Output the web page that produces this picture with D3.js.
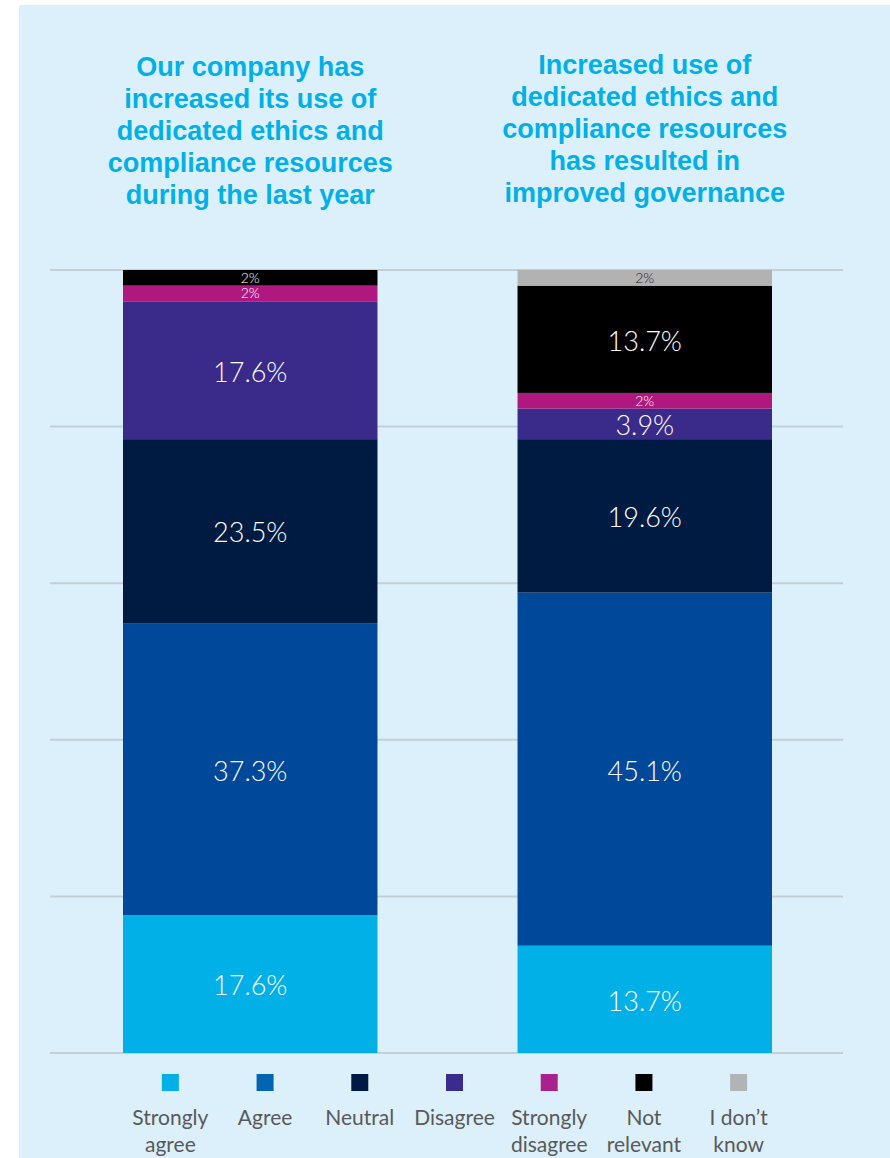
<!DOCTYPE html>
<html>
<head>
<meta charset="utf-8">
<script src="https://cdn.jsdelivr.net/npm/d3@7"></script>
<style>
  html, body { margin: 0; padding: 0; background: #ffffff; }
  svg { display: block; }
</style>
</head>
<body>
<svg id="chart" width="890" height="1158"></svg>
<script>
// ---- Data ----
const categories = ["Strongly agree", "Agree", "Neutral", "Disagree", "Strongly disagree", "Not relevant", "I don\u2019t know"];
const legendLines = [["Strongly", "agree"], ["Agree"], ["Neutral"], ["Disagree"], ["Strongly", "disagree"], ["Not", "relevant"], ["I don\u2019t", "know"]];
const colors = ["#00b0e6", "#00489a", "#001b42", "#3a2a8a", "#b0187f", "#000000", "#b2b2b2"];
const legendColors = ["#00b0e6", "#0066b3", "#001a43", "#3a2c8e", "#a8218c", "#000000", "#b1b3b5"];
const questions = ["q1", "q2"];
const titles = [
  ["Our company has", "increased its use of", "dedicated ethics and", "compliance resources", "during the last year"],
  ["Increased use of", "dedicated ethics and", "compliance resources", "has resulted in", "improved governance"]
];
const valuesQ1 = [17.6, 37.3, 23.5, 17.6, 2, 2, 0];
const valuesQ2 = [13.7, 45.1, 19.6, 3.9, 2, 13.7, 2];
const labelsQ1 = ["17.6%", "37.3%", "23.5%", "17.6%", "2%", "2%", ""];
const labelsQ2 = ["13.7%", "45.1%", "19.6%", "3.9%", "2%", "13.7%", "2%"];
const yTicks = [0, 20, 40, 60, 80, 100];

const svg = d3.select("#chart");

// background panel
svg.append("rect").attr("x", 19).attr("y", 5).attr("width", 871).attr("height", 1153).attr("fill", "#dbf0fb");

const x = d3.scaleBand().domain(questions).range([123, 772]).paddingInner(0.355);
const y = d3.scaleLinear().domain([0, 100]).range([1053, 270]);

// gridlines
svg.append("g").selectAll("line").data(yTicks).join("line")
  .attr("x1", 50).attr("x2", 843)
  .attr("y1", d => y(d)).attr("y2", d => y(d))
  .attr("stroke", "#c3cfd7").attr("stroke-width", 2);

// stacked data
const allValues = [valuesQ1, valuesQ2];
const allLabels = [labelsQ1, labelsQ2];
questions.forEach((q, qi) => {
  let cum = 0;
  const segs = allValues[qi].map((v, i) => {
    const s = { q, i, v, y0: cum, y1: cum + v, label: allLabels[qi][i] };
    cum += v;
    return s;
  }).filter(s => s.v > 0);
  const g = svg.append("g");
  g.selectAll("rect").data(segs).join("rect")
    .attr("x", x(q)).attr("width", x.bandwidth())
    .attr("y", d => y(d.y1)).attr("height", d => y(d.y0) - y(d.y1))
    .attr("fill", d => colors[d.i]);
  g.selectAll("text").data(segs).join("text")
    .attr("x", x(q) + x.bandwidth() / 2)
    .attr("y", d => (y(d.y0) + y(d.y1)) / 2)
    .attr("dy", d => d.v <= 2 ? "0.34em" : "0.42em")
    .attr("text-anchor", "middle")
    .attr("font-family", "Lato, 'Liberation Sans', sans-serif")
    .attr("font-weight", 300)
    .attr("font-size", d => d.v <= 2 ? 14 : 27)
    .attr("fill", d => d.i === 6 ? "#222222" : "#ffffff")
    .text(d => d.label);

  // title
  const t = svg.append("text")
    .attr("x", x(q) + x.bandwidth() / 2)
    .attr("text-anchor", "middle")
    .attr("font-family", "'Liberation Sans', Arial, sans-serif")
    .attr("font-weight", 700)
    .attr("font-size", 27)
    .attr("fill", "#00b0e6");
  titles[qi].forEach((line, li) => {
    t.append("tspan").attr("x", x(q) + x.bandwidth() / 2)
      .attr("y", (qi === 0 ? 76 : 74) + li * 32).text(line);
  });
});

// legend
const lx = d3.scaleBand().domain(categories).range([123, 786]);
const lg = svg.append("g");
lg.selectAll("rect").data(categories).join("rect")
  .attr("x", d => lx(d) + lx.bandwidth() / 2 - 8.5)
  .attr("y", 1074).attr("width", 17).attr("height", 17)
  .attr("fill", (d, i) => legendColors[i]);
const lt = lg.selectAll("text").data(categories).join("text")
  .attr("text-anchor", "middle")
  .attr("font-family", "Lato, 'Liberation Sans', sans-serif")
  .attr("font-weight", 400)
  .attr("font-size", 21)
  .attr("fill", "#595959");
lt.each(function(d, i) {
  legendLines[i].forEach((line, li) => {
    d3.select(this).append("tspan")
      .attr("x", lx(d) + lx.bandwidth() / 2)
      .attr("y", 1125 + li * 27).text(line);
  });
});
</script>
</body>
</html>
